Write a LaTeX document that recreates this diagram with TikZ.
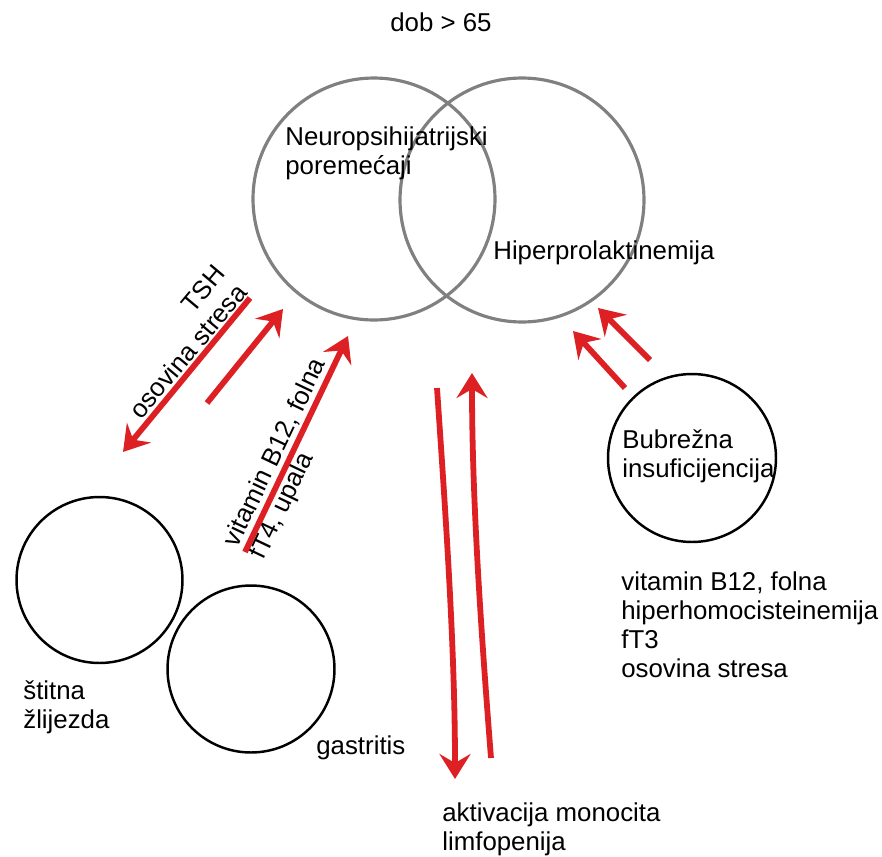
\documentclass[tikz,border=0pt]{standalone}
\usepackage{fontspec}
\setmainfont{Liberation Sans}
\usepackage{tikz, tkz-euclide}
\usetikzlibrary{arrows.meta}
\definecolor{arrred}{RGB}{221,32,36}
\definecolor{ringgray}{RGB}{128,128,128}

\begin{document}
\begin{tikzpicture}[x=0.02cm, y=-0.02cm,
    lbl/.style={font=\fontsize{14.7}{16.5}\selectfont, inner sep=0pt, align=left},
    ring/.style={circle, draw=ringgray, line width=1.8pt},
    blob/.style={circle, draw=black, line width=1.4pt},
    redarrow/.style={draw=arrred, line width=3.3pt, -{Stealth[length=0.5cm, width=0.62cm, inset=0.18cm]}}]
    \useasboundingbox (0,0) rectangle (882,856);
    \tkzDefPoints{250/298/tshS, 123/452/tshE, 207/403/upS, 283/309/upE, 245/552/vitS, 348/336/vitE}
    \tkzDefPoints{437/388/monoS, 455/779/monoE, 491/758/limS, 472/373/limE}
    \tkzDefPoints{625/388/bubS, 573/331/bubE, 650/360/buzS, 598/308/buzE}
    % circles
    \node[ring, minimum size=4.84cm] (neuro) at (374,199) {};
    \node[ring, minimum size=4.88cm] (hiper) at (522,200) {};
    \node[blob, minimum size=3.36cm] (bubreg) at (692,458) {};
    \node[blob, minimum size=3.32cm] (stitna) at (99.5,580) {};
    \node[blob, minimum size=3.34cm] (gastr) at (251,669) {};
    % labels
    \node[lbl] (dob) at (441,22) {dob > 65};
    \node[lbl, anchor=west] (neurotxt) at (285,153) {Neuropsihijatrijski\\poremećaji};
    \node[lbl, anchor=west] (hipertxt) at (493,253) {Hiperprolaktinemija};
    \node[lbl, anchor=west] (bubtxt) at (622,456) {Bubrežna\\insuficijencija};
    \node[lbl, anchor=west] (bubfac) at (621,625) {vitamin B12, folna\\hiperhomocisteinemija\\fT3\\osovina stresa};
    \node[lbl, anchor=west] (stittxt) at (23,707) {štitna\\žlijezda};
    \node[lbl, anchor=west] (gastxt) at (316,748) {gastritis};
    \node[lbl, anchor=west] (monotxt) at (442,829) {aktivacija monocita\\limfopenija};
    \node[lbl, align=right, rotate=50] (tshtxt) at (177,342) {TSH\\osovina stresa};
    \node[lbl, rotate=64.5] (vittxt) at (289,459) {vitamin B12, folna\\fT4, upala};
    % arrows
    \draw[redarrow] (tshS) -- (tshE);
    \draw[redarrow] (upS) -- (upE);
    \draw[redarrow] (vitS) -- (vitE);
    \draw[redarrow] (monoS) .. controls (446,520) and (455,650) .. (monoE);
    \draw[redarrow] (limS) .. controls (481,630) and (472,500) .. (limE);
    \draw[redarrow] (bubS) -- (bubE);
    \draw[redarrow] (buzS) -- (buzE);
\end{tikzpicture}
\end{document}
